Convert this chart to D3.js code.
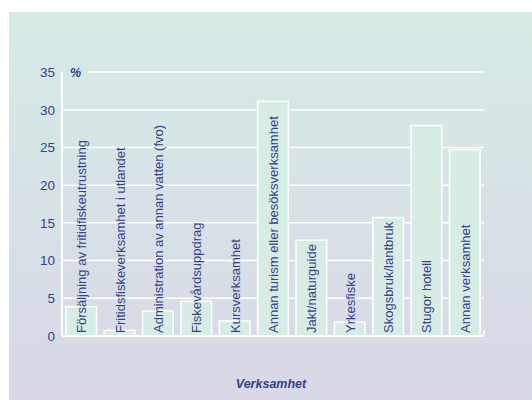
<!DOCTYPE html>
<html>
<head>
<meta charset="utf-8">
<script src="https://cdn.jsdelivr.net/npm/d3@7"></script>
<style>
  body { margin: 0; background: #fff; }
  text { font-family: "Liberation Sans", Arial, sans-serif; }
</style>
</head>
<body>
<div id="chart"></div>
<script>
// data
let categories = [
  "Försäljning av fritidfiskeutrustning",
  "Fritidsfiskeverksamhet i utlandet",
  "Administration av annan vatten (fvo)",
  "Fiskevårdsuppdrag",
  "Kursverksamhet",
  "Annan turism eller besöksverksamhet",
  "Jakt/naturguide",
  "Yrkesfiske",
  "Skogsbruk/lantbruk",
  "Stugor hotell",
  "Annan verksamhet"
];
let values = [3.9, 0.75, 3.3, 4.6, 2.0, 31.1, 12.7, 1.85, 15.7, 27.9, 24.7];
let yTicks = [0, 5, 10, 15, 20, 25, 30, 35];

let width = 532, height = 400;
let margin = {top: 72, left: 62, right: 48, bottom: 64};
let innerWidth = width - margin.left - margin.right;
let innerHeight = height - margin.top - margin.bottom;
let textColor = "#353f8a";

let svg = d3.select("#chart").append("svg")
  .attr("width", width)
  .attr("height", height);

// background gradient panel
let grad = svg.append("defs").append("linearGradient")
  .attr("id", "bg")
  .attr("x1", 0).attr("y1", 0).attr("x2", 0).attr("y2", 1);
grad.append("stop").attr("offset", "0%").attr("stop-color", "#d6ebe6");
grad.append("stop").attr("offset", "100%").attr("stop-color", "#d8d8e6");

svg.append("rect")
  .attr("x", 9).attr("y", 12)
  .attr("width", width - 9).attr("height", height - 12)
  .attr("fill", "url(#bg)");

let g = svg.append("g")
  .attr("transform", "translate(" + margin.left + "," + margin.top + ")");

let x = d3.scaleBand()
  .domain(categories)
  .range([0, innerWidth])
  .paddingInner(0.2)
  .paddingOuter(0.1);

let y = d3.scaleLinear()
  .domain([0, 35])
  .range([innerHeight, 0]);

// gridlines
g.selectAll(".grid")
  .data(yTicks.filter(d => d > 0))
  .enter().append("line")
  .attr("class", "grid")
  .attr("x1", d => d === 35 ? 26 : 0)
  .attr("x2", innerWidth)
  .attr("y1", d => y(d))
  .attr("y2", d => y(d))
  .attr("stroke", "#fff")
  .attr("stroke-width", 1.5);

// y axis
let yAxis = d3.axisLeft(y).tickValues(yTicks).tickSize(0).tickPadding(7);
let yG = g.append("g").call(yAxis);
yG.select(".domain").remove();
yG.selectAll("text")
  .attr("fill", textColor)
  .style("font-size", "13.5px");

g.append("line")
  .attr("x1", 0).attr("x2", 0)
  .attr("y1", 0).attr("y2", innerHeight)
  .attr("stroke", "#fff").attr("stroke-width", 2);

g.append("text")
  .attr("x", 8).attr("y", 5)
  .attr("fill", textColor)
  .style("font-size", "12.5px")
  .style("font-weight", "bold")
  .style("font-style", "italic")
  .text("%");

// bars
g.selectAll(".bar")
  .data(values)
  .enter().append("rect")
  .attr("class", "bar")
  .attr("x", (d, i) => x(categories[i]))
  .attr("y", d => y(d))
  .attr("width", x.bandwidth())
  .attr("height", d => innerHeight - y(d))
  .attr("fill", "#d8ece6")
  .attr("stroke", "#fff")
  .attr("stroke-width", 1.5);

// x axis line
g.append("line")
  .attr("x1", 0).attr("x2", innerWidth)
  .attr("y1", innerHeight).attr("y2", innerHeight)
  .attr("stroke", "#fff").attr("stroke-width", 2);
g.append("line")
  .attr("x1", innerWidth).attr("x2", innerWidth)
  .attr("y1", innerHeight).attr("y2", innerHeight - 6)
  .attr("stroke", "#fff").attr("stroke-width", 1.5);

// category labels inside bars
g.selectAll(".label")
  .data(categories)
  .enter().append("text")
  .attr("class", "label")
  .attr("transform", d => "translate(" + (x(d) + x.bandwidth() / 2 + 5) + "," + (innerHeight - 3) + ") rotate(-90)")
  .attr("fill", textColor)
  .style("font-size", "13px")
  .text(d => d);

// x axis title
svg.append("text")
  .attr("x", 271).attr("y", 388)
  .attr("text-anchor", "middle")
  .attr("fill", textColor)
  .style("font-size", "12.5px")
  .style("font-weight", "bold")
  .style("font-style", "italic")
  .text("Verksamhet");
</script>
</body>
</html>
